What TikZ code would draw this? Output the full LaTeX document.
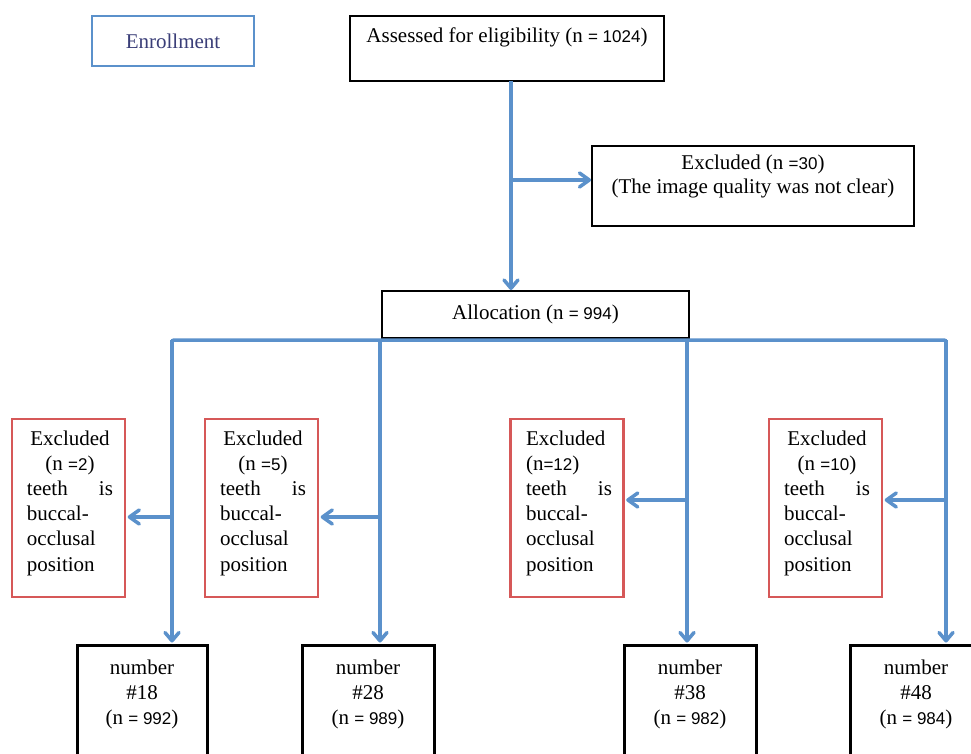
\documentclass[tikz,border=0pt]{standalone}
\usepackage{fontspec}
\setmainfont{Liberation Serif}
\setsansfont{Liberation Sans}
\usetikzlibrary{calc,positioning}
\definecolor{lineblue}{RGB}{91,145,203}
\definecolor{boxred}{RGB}{214,88,88}
\definecolor{enrolltext}{RGB}{58,62,120}
\newcommand{\sfn}[1]{{\sffamily\fontsize{17}{25}\selectfont #1}}
\tikzset{
  blueline/.style={draw=lineblue,line width=3.5pt},
  headline/.style={draw=lineblue,line width=3.5pt,line cap=round,line join=round},
  blackbox/.style={draw=black,line width=2pt,fill=white,inner sep=0pt},
  bottombox/.style={draw=black,line width=3pt,fill=white,inner sep=0pt,minimum width=130pt,minimum height=130pt,anchor=north},
  redbox/.style={draw=boxred,line width=2.5pt,fill=white,inner sep=0pt,minimum width=113pt,minimum height=178pt},
  txt/.style={inner sep=0pt,align=center,font=\fontsize{21}{25}\selectfont}
}
% arrow heads (y axis points down)
\newcommand{\downhead}[1]{\draw[headline] ($(#1)+(-7,-10)$) -- ($(#1)+(0,-1.7)$) -- ($(#1)+(7,-10)$);}
\newcommand{\lefthead}[1]{\draw[headline] ($(#1)+(11.5,-7)$) -- ($(#1)+(1.7,0)$) -- ($(#1)+(11.5,7)$);}
\newcommand{\righthead}[1]{\draw[headline] ($(#1)+(-11.5,-7)$) -- ($(#1)+(-1.7,0)$) -- ($(#1)+(-11.5,7)$);}
\newcommand{\exclcontent}[2]{\parbox{86pt}{\fontsize{21}{25.2}\selectfont#1Excluded\\#2\par\raggedright\makebox[\linewidth][s]{teeth\hfill is}\\buccal-\\occlusal\\position}}
\begin{document}
\begin{tikzpicture}[x=1pt,y=-1pt]
\useasboundingbox[fill=white] (0,0) rectangle (971,754);
\begin{scope}
\clip (0,0) rectangle (971,754);
% top boxes
\node[draw=lineblue,line width=2.5pt,minimum width=162pt,minimum height=50pt,inner sep=0pt] (enr) at (173,41) {};
\node[txt,text=enrolltext] (enrt) at (173,41) {Enrollment};
\node[blackbox,minimum width=314pt,minimum height=65pt] (ass) at (507,48.5) {};
\node[txt,anchor=north] (asst) at ([yshift=-13pt]ass.north) {Assessed for eligibility (n \sfn{= 1024})};
\node[blackbox,minimum width=322pt,minimum height=80pt] (exc) at (753,186) {};
\node[txt,anchor=north] (exct) at ([yshift=-10pt]exc.north) {Excluded (n \sfn{=30})\\[-1pt](The image quality was not clear)};
\node[blackbox,minimum width=307pt,minimum height=47pt] (alloc) at (535.5,314.5) {};
\node[txt] (alloct) at (alloc.center) {Allocation (n \sfn{= 994})};
% connectors top
\coordinate (assb) at (511,81);
\coordinate (alloctop) at (511,290);
\coordinate (split) at (511,180);
\coordinate (excin) at (exc.west |- split);
\draw[blueline] (assb) -- ($(alloctop)+(0,-2)$);
\downhead{alloctop}
\draw[blueline] (split) -- ($(excin)+(-2,0)$);
\righthead{excin}
% horizontal line
\coordinate (h1) at (172,340);
\coordinate (h2) at (380,340);
\coordinate (h3) at (687,340);
\coordinate (h4) at (946,340);
\draw[blueline,rounded corners=2pt] (h1 |- 0,350) -- (h1) -- (h4) -- (h4 |- 0,350);
% red boxes
\node[redbox] (e1) at (68.5,508) {};
\node[inner sep=0pt] (e1t) at (70,503) {\exclcontent{\centering}{(n \sfn{=2})}};
\node[redbox] (e2) at (261.5,508) {};
\node[inner sep=0pt] (e2t) at (263,503) {\exclcontent{\centering}{(n \sfn{=5})}};
\node[redbox] (e3) at (567,508) {};
\node[inner sep=0pt] (e3t) at (569,503) {\exclcontent{\raggedright}{(n\sfn{=12})}};
\node[redbox] (e4) at (825.5,508) {};
\node[inner sep=0pt] (e4t) at (827,503) {\exclcontent{\centering}{(n \sfn{=10})}};
% bottom boxes
\node[bottombox] (b1) at (142,644) {};
\node[txt,anchor=north] (b1t) at ([yshift=-16pt]b1.north) {number\\\#18\\(n \sfn{= 992})};
\node[bottombox,minimum width=132pt] (b2) at (368,644) {};
\node[txt,anchor=north] (b2t) at ([yshift=-16pt]b2.north) {number\\\#28\\(n \sfn{= 989})};
\node[bottombox,minimum width=132pt] (b3) at (690,644) {};
\node[txt,anchor=north] (b3t) at ([yshift=-16pt]b3.north) {number\\\#38\\(n \sfn{= 982})};
\node[bottombox,minimum width=132pt] (b4) at (916,644) {};
\node[txt,anchor=north] (b4t) at ([yshift=-16pt]b4.north) {number\\\#48\\(n \sfn{= 984})};
% verticals
\coordinate (t1) at ($(h1 |- b1.north)+(0,-1.5)$);
\coordinate (t2) at ($(h2 |- b2.north)+(0,-1.5)$);
\coordinate (t3) at ($(h3 |- b3.north)+(0,-1.5)$);
\coordinate (t4) at ($(h4 |- b4.north)+(0,-1.5)$);
\draw[blueline] (h1) -- ($(t1)+(0,-2)$); \downhead{t1}
\draw[blueline] (h2) -- ($(t2)+(0,-2)$); \downhead{t2}
\draw[blueline] (h3) -- ($(t3)+(0,-2)$); \downhead{t3}
\draw[blueline] (h4) -- ($(t4)+(0,-2)$); \downhead{t4}
% side arrows
\coordinate (s1) at (172,517);
\coordinate (s2) at (380,517);
\coordinate (s3) at (687,500);
\coordinate (s4) at (946,500);
\coordinate (r1) at ($(e1.east |- s1)+(1.5,0)$);
\coordinate (r2) at ($(e2.east |- s2)+(1.5,0)$);
\coordinate (r3) at ($(e3.east |- s3)+(1.5,0)$);
\coordinate (r4) at ($(e4.east |- s4)+(1.5,0)$);
\draw[blueline] (s1) -- ($(r1)+(2,0)$); \lefthead{r1}
\draw[blueline] (s2) -- ($(r2)+(2,0)$); \lefthead{r2}
\draw[blueline] (s3) -- ($(r3)+(2,0)$); \lefthead{r3}
\draw[blueline] (s4) -- ($(r4)+(2,0)$); \lefthead{r4}
\end{scope}
\end{tikzpicture}
\end{document}
